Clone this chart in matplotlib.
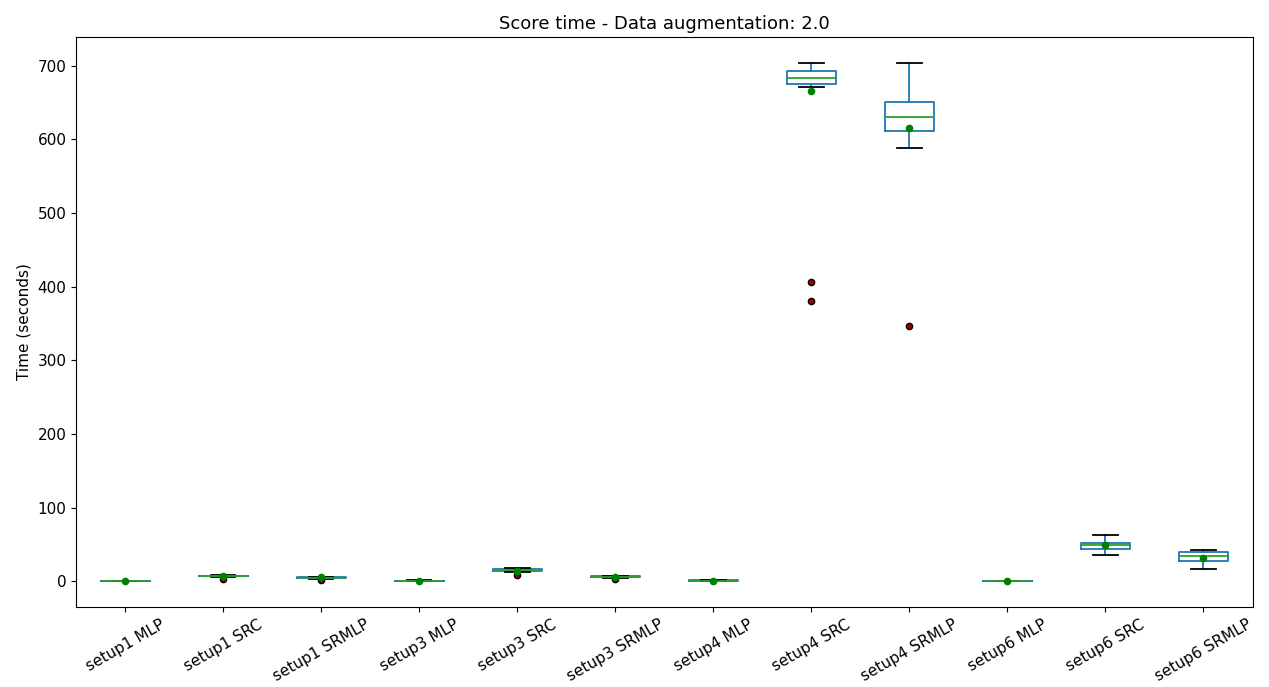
import matplotlib
matplotlib.use("Agg")
import matplotlib.pyplot as plt

labels = ["setup1 MLP", "setup1 SRC", "setup1 SRMLP", "setup3 MLP", "setup3 SRC",
          "setup3 SRMLP", "setup4 MLP", "setup4 SRC", "setup4 SRMLP", "setup6 MLP",
          "setup6 SRC", "setup6 SRMLP"]
medians = [0.3, 7.0, 4.8, 0.5, 15.0, 6.0, 0.8, 683.0, 631.0, 0.3, 49.8, 34.5]
q1s     = [0.2, 6.5, 4.2, 0.3, 14.0, 5.5, 0.5, 675.0, 612.0, 0.2, 44.0, 27.5]
q3s     = [0.4, 7.5, 5.4, 0.7, 16.0, 6.5, 1.1, 693.0, 651.0, 0.4, 52.5, 39.0]
whislo  = [0.1, 5.8, 3.5, 0.1, 12.0, 4.8, 0.2, 671.0, 589.0, 0.1, 35.3, 17.0]
whishi  = [0.6, 8.2, 6.0, 1.0, 17.5, 7.2, 1.8, 704.0, 704.0, 0.6, 63.0, 43.0]
means   = [0.3, 7.2, 5.2, 0.5, 14.5, 5.5, 0.8, 666.0, 616.0, 0.3, 49.0, 32.0]
fliers  = [[], [3.5], [1.8], [], [9.0], [3.5], [], [406.0, 380.0], [347.0], [], [], []]

stats = []
for i, lab in enumerate(labels):
    stats.append(dict(label=lab, med=medians[i], q1=q1s[i], q3=q3s[i],
                      whislo=whislo[i], whishi=whishi[i], mean=means[i],
                      fliers=fliers[i]))

lw = 1.3
fig = plt.figure(figsize=(12.69, 6.87), dpi=100)
ax = fig.add_axes([0.060, 0.1164, 0.927, 0.8298])
ax.bxp(stats, showmeans=True, patch_artist=False,
       boxprops=dict(color="#1f77b4", linewidth=lw),
       whiskerprops=dict(color="#1f77b4", linewidth=lw),
       capprops=dict(color="k", linewidth=lw),
       medianprops=dict(color="#2ca02c", linewidth=lw),
       meanprops=dict(marker="o", markerfacecolor="green", markeredgecolor="green",
                      markersize=4.5),
       flierprops=dict(marker="o", markerfacecolor="#a00000", markeredgecolor="k",
                       markersize=4.5))
ax.set_title("Score time - Data augmentation: 2.0", fontsize=13)
ax.set_ylabel("Time (seconds)", fontsize=11)
ax.tick_params(labelsize=11)
ax.set_xticks(range(1, len(labels) + 1))
ax.set_xticklabels(labels, rotation=30, ha="center")
fig.savefig("out.png", dpi=100)
